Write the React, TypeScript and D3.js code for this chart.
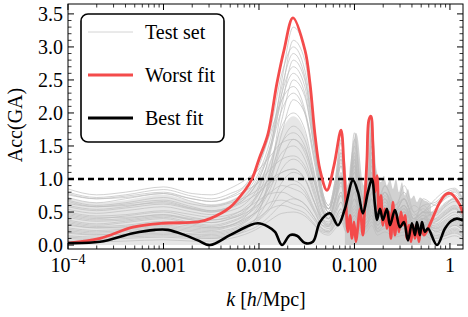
import React from "react";
import * as d3 from "d3";

const W = 468;
const H = 317;
const plot = { left: 68, right: 463, top: 4, bottom: 249 };
const FONT = "'Liberation Serif', 'Times New Roman', serif";

// shared log10(k) grid for the test-set curves
const testLogK = [
  -4.0, -3.7, -3.4, -3.0, -2.7, -2.5, -2.3, -2.15, -2.0, -1.88, -1.76, -1.64, -1.52, -1.42, -1.34, -1.27,
  -1.2, -1.14, -1.08, -1.0, -0.93, -0.87, -0.82, -0.76, -0.68, -0.58, -0.48, -0.38, -0.28, -0.15, -0.05,
  0.05, 0.136,
];

// test set curves (Acc values on testLogK)
const testSet = [
  [0.85,0.76,0.80,0.88,0.78,0.76,0.86,0.98,1.15,1.35,1.55,1.60,1.40,0.95,0.60,0.55,0.80,1.05,0.60,0.90,0.50,0.60,0.90,0.60,0.80,0.50,0.70,0.40,0.50,0.70,0.82,0.86,0.70],
  [0.80,0.72,0.76,0.84,0.74,0.70,0.78,0.90,1.25,1.70,2.20,2.40,2.05,1.30,0.70,0.50,0.75,1.20,0.70,1.10,0.60,0.70,1.20,0.70,0.90,0.60,0.80,0.50,0.60,0.65,0.78,0.84,0.68],
  [0.76,0.70,0.74,0.80,0.70,0.66,0.72,0.82,0.95,1.15,1.30,1.35,1.20,0.80,0.45,0.40,0.70,0.95,0.50,1.30,0.70,0.80,1.00,0.50,0.70,0.40,0.60,0.30,0.70,0.60,0.72,0.80,0.62],
  [0.72,0.64,0.70,0.78,0.66,0.60,0.66,0.80,1.10,1.60,2.40,2.90,2.55,1.60,0.80,0.55,0.95,1.45,0.80,1.00,0.50,0.80,1.50,0.80,0.70,0.50,0.90,0.50,0.40,0.55,0.70,0.76,0.60],
  [0.68,0.60,0.64,0.72,0.62,0.58,0.64,0.72,0.85,1.00,1.10,1.15,1.00,0.65,0.40,0.35,0.60,0.80,0.40,0.80,0.40,0.50,0.70,0.40,0.60,0.30,0.50,0.20,0.40,0.50,0.64,0.70,0.56],
  [0.63,0.58,0.62,0.68,0.58,0.52,0.58,0.70,1.00,1.45,2.05,2.30,2.00,1.25,0.65,0.45,0.70,1.10,0.55,1.50,0.80,0.60,1.30,0.60,0.90,0.60,0.40,0.60,0.50,0.45,0.58,0.66,0.52],
  [0.58,0.52,0.56,0.62,0.54,0.50,0.56,0.66,0.80,0.95,1.00,0.98,0.85,0.55,0.35,0.30,0.55,0.75,0.40,0.70,0.35,0.40,0.60,0.30,0.50,0.40,0.30,0.40,0.30,0.40,0.52,0.60,0.48],
  [0.54,0.48,0.52,0.58,0.50,0.46,0.52,0.62,0.90,1.40,2.30,3.10,2.80,1.75,0.85,0.60,1.00,1.55,0.80,1.20,0.60,0.70,1.60,0.70,0.80,0.60,0.70,0.40,0.60,0.40,0.50,0.58,0.45],
  [0.50,0.44,0.46,0.52,0.46,0.42,0.46,0.54,0.68,0.80,0.90,0.85,0.75,0.50,0.30,0.28,0.50,0.65,0.35,0.60,0.30,0.35,0.50,0.30,0.40,0.30,0.35,0.25,0.30,0.35,0.46,0.54,0.42],
  [0.46,0.40,0.44,0.50,0.42,0.38,0.42,0.52,0.78,1.25,1.80,2.00,1.75,1.10,0.60,0.45,0.70,1.00,0.50,1.70,0.80,0.60,1.10,0.50,0.60,0.50,0.60,0.35,0.45,0.32,0.42,0.50,0.38],
  [0.42,0.36,0.38,0.44,0.38,0.34,0.40,0.48,0.62,0.78,0.80,0.72,0.62,0.42,0.25,0.22,0.40,0.55,0.30,0.55,0.30,0.35,0.45,0.25,0.35,0.25,0.30,0.20,0.30,0.30,0.38,0.46,0.35],
  [0.38,0.32,0.36,0.42,0.34,0.30,0.36,0.46,0.70,1.10,1.55,1.70,1.50,0.95,0.55,0.40,0.65,0.90,0.45,0.95,0.50,0.55,1.00,0.45,0.55,0.45,0.55,0.30,0.40,0.28,0.36,0.42,0.32],
  [0.34,0.28,0.30,0.36,0.30,0.26,0.30,0.38,0.55,0.85,1.30,1.60,1.45,1.00,0.55,0.40,0.75,1.25,0.65,1.40,0.70,0.50,1.75,0.60,0.70,0.40,0.50,0.40,0.35,0.25,0.32,0.38,0.30],
  [0.30,0.26,0.28,0.34,0.28,0.26,0.30,0.40,0.52,0.65,0.68,0.62,0.55,0.38,0.22,0.20,0.35,0.50,0.25,0.45,0.25,0.30,0.40,0.20,0.30,0.20,0.25,0.15,0.25,0.22,0.28,0.34,0.26],
  [0.26,0.22,0.24,0.28,0.24,0.22,0.28,0.36,0.60,1.00,1.70,2.20,2.00,1.35,0.70,0.50,0.85,1.30,0.70,1.10,0.55,0.65,1.40,0.55,0.75,0.45,0.60,0.35,0.45,0.20,0.25,0.30,0.22],
  [0.22,0.18,0.20,0.24,0.20,0.18,0.22,0.30,0.42,0.55,0.60,0.55,0.48,0.32,0.20,0.18,0.30,0.40,0.20,0.40,0.20,0.25,0.35,0.20,0.25,0.15,0.20,0.12,0.20,0.18,0.22,0.30,0.22],
  [0.18,0.15,0.17,0.20,0.17,0.16,0.20,0.28,0.45,0.75,1.15,1.30,1.15,0.75,0.40,0.30,0.50,0.75,0.40,0.80,0.40,0.45,0.80,0.35,0.45,0.30,0.40,0.25,0.30,0.15,0.20,0.26,0.18],
  [0.14,0.12,0.14,0.16,0.14,0.12,0.16,0.24,0.38,0.55,0.82,0.92,0.80,0.52,0.30,0.25,0.40,0.55,0.30,0.50,0.25,0.30,0.55,0.25,0.35,0.20,0.30,0.15,0.25,0.12,0.16,0.22,0.15],
  [0.10,0.08,0.10,0.12,0.10,0.10,0.14,0.22,0.50,1.10,2.10,2.80,2.50,1.55,0.75,0.55,0.90,1.40,0.75,1.25,0.60,0.75,1.50,0.65,0.80,0.50,0.60,0.40,0.50,0.10,0.14,0.18,0.12],
  [0.06,0.05,0.06,0.08,0.06,0.06,0.10,0.16,0.26,0.38,0.48,0.50,0.44,0.30,0.18,0.15,0.25,0.35,0.18,0.30,0.15,0.20,0.30,0.15,0.20,0.12,0.15,0.10,0.15,0.06,0.10,0.14,0.08],
  [0.66,0.58,0.60,0.64,0.55,0.50,0.58,0.74,1.05,1.50,2.20,2.60,2.30,1.45,0.75,0.55,0.90,1.35,0.70,1.35,0.65,0.70,1.25,0.60,0.70,0.50,0.70,0.40,0.50,0.48,0.60,0.72,0.55],
  [0.48,0.42,0.42,0.46,0.40,0.38,0.44,0.56,0.78,1.05,1.40,1.50,1.30,0.85,0.50,0.40,0.65,0.95,0.50,1.60,0.80,0.60,1.20,0.50,0.65,0.40,0.55,0.30,0.40,0.36,0.46,0.56,0.40],
  [0.32,0.26,0.26,0.30,0.26,0.24,0.30,0.42,0.70,1.15,1.90,2.50,2.25,1.45,0.75,0.50,0.85,1.20,0.65,1.00,0.50,0.60,1.30,0.55,0.65,0.40,0.50,0.35,0.40,0.24,0.30,0.36,0.28],
  [0.20,0.16,0.16,0.18,0.16,0.14,0.18,0.26,0.40,0.60,0.95,1.10,1.00,0.65,0.35,0.28,0.45,0.65,0.35,0.70,0.35,0.40,0.70,0.30,0.40,0.25,0.35,0.20,0.30,0.14,0.18,0.24,0.16],
  [0.44,0.38,0.40,0.46,0.38,0.34,0.40,0.50,0.85,1.45,2.50,3.30,2.95,1.80,0.85,0.60,1.00,1.60,0.80,1.30,0.60,0.70,1.70,0.70,0.80,0.60,0.70,0.45,0.55,0.38,0.48,0.56,0.42],
  [0.60,0.54,0.58,0.66,0.56,0.52,0.58,0.70,1.00,1.50,2.30,2.70,2.40,1.50,0.75,0.55,0.90,1.40,0.70,1.20,0.60,0.70,1.40,0.60,0.80,0.50,0.70,0.40,0.50,0.50,0.62,0.70,0.54],
  [0.24,0.20,0.22,0.26,0.22,0.20,0.24,0.34,0.55,0.95,1.55,1.80,1.60,1.05,0.55,0.40,0.70,1.05,0.55,1.15,0.55,0.55,1.10,0.50,0.55,0.40,0.50,0.30,0.40,0.20,0.26,0.32,0.24],
  [0.12,0.10,0.12,0.14,0.12,0.10,0.14,0.20,0.30,0.45,0.62,0.70,0.62,0.42,0.25,0.20,0.32,0.45,0.25,0.45,0.22,0.28,0.45,0.22,0.30,0.18,0.25,0.15,0.20,0.10,0.14,0.20,0.12],
  [0.78,0.70,0.72,0.78,0.70,0.66,0.74,0.88,1.20,1.75,2.60,3.00,2.65,1.65,0.80,0.55,0.85,1.30,0.70,1.20,0.60,0.70,1.30,0.60,0.80,0.50,0.70,0.40,0.50,0.62,0.74,0.82,0.66],
  [0.36,0.30,0.34,0.40,0.32,0.28,0.34,0.44,0.62,0.90,1.10,1.15,1.00,0.65,0.40,0.32,0.55,0.80,0.40,0.85,0.40,0.45,0.80,0.35,0.45,0.30,0.40,0.25,0.35,0.26,0.34,0.40,0.30],
];

// densest part of the test-set bundle (upper edge on testLogK)
const bandTop = [
  0.72, 0.64, 0.68, 0.76, 0.66, 0.62, 0.68, 0.8, 1.0, 1.3, 1.75, 1.95, 1.72, 1.1, 0.6, 0.45, 0.75, 1.1, 0.55,
  1.05, 0.6, 0.6, 1.05, 0.6, 0.7, 0.5, 0.6, 0.4, 0.5, 0.5, 0.62, 0.7, 0.55,
];

// dense high-k part of the test set (upper edge)
const denseLogK = [
  -1.1, -1.068, -1.047, -1.016, -0.984, -0.963, -0.942, -0.921, -0.901, -0.88, -0.859, -0.838, -0.817, -0.796,
  -0.775, -0.754, -0.723, -0.691, -0.66, -0.628, -0.597, -0.565, -0.534, -0.503, -0.471, -0.44, -0.408, -0.377,
  -0.346, -0.314, -0.272, -0.23, -0.199,
];
const denseTop = [
  1.3, 0.9, 1.2, 1.5, 1.7, 1.6, 1.3, 1.0, 0.9, 1.2, 1.7, 1.9, 1.95, 1.6, 1.2, 1.05, 0.95, 1.05, 0.9, 1.0, 0.85,
  1.0, 0.8, 0.95, 0.75, 0.85, 0.7, 0.75, 0.65, 0.72, 0.68, 0.65, 0.6,
];

// worst fit
const worstLogK = [
  -4.0, -3.665, -3.319, -3.005, -2.639, -2.513, -2.304, -2.147, -2.073, -2.0, -1.906, -1.812, -1.738, -1.644,
  -1.518, -1.466, -1.414, -1.361, -1.288, -1.215, -1.141, -1.11, -1.089, -1.068, -1.047, -1.026, -1.005, -0.984,
  -0.963, -0.942, -0.911, -0.89, -0.869, -0.848, -0.827, -0.806, -0.785, -0.764, -0.743, -0.723, -0.702, -0.681,
  -0.66, -0.639, -0.618, -0.597, -0.576, -0.555, -0.534, -0.513, -0.492, -0.471, -0.45, -0.429, -0.408, -0.387,
  -0.366, -0.346, -0.325, -0.304, -0.272, -0.23, -0.178, -0.105, -0.042, 0.01, 0.063, 0.105, 0.136,
];
const worstAcc = [
  0.03, 0.1, 0.27, 0.33, 0.35, 0.4, 0.57, 0.83, 1.0, 1.3, 1.68, 2.45, 2.95, 3.44, 2.95, 2.45, 1.68, 1.14, 0.83,
  1.2, 1.74, 1.2, 0.6, 0.2, 0.45, 0.1, 0.35, 0.05, 0.3, 0.55, 0.15, 0.7, 1.3, 1.9, 1.95, 1.5, 0.8, 1.05, 0.5,
  0.75, 0.3, 0.55, 0.25, 0.5, 0.1, 0.65, 0.15, 0.45, 0.2, 0.5, 0.3, 0.45, 0.1, 0.3, 0.05, 0.3, 0.1, 0.3, 0.05,
  0.25, 0.15, 0.25, 0.42, 0.65, 0.77, 0.78, 0.7, 0.6, 0.48,
];

// best fit
const bestLogK = [
  -4.0, -3.665, -3.319, -3.089, -2.953, -2.775, -2.639, -2.513, -2.304, -2.094, -2.01, -1.906, -1.832, -1.759,
  -1.675, -1.602, -1.518, -1.435, -1.361, -1.257, -1.173, -1.1, -1.016, -0.963, -0.911, -0.859, -0.817, -0.785,
  -0.764, -0.733, -0.702, -0.66, -0.628, -0.576, -0.524, -0.482, -0.44, -0.398, -0.366, -0.346, -0.314, -0.293,
  -0.262, -0.23, -0.136, -0.052, 0.01, 0.073, 0.136,
];
const bestAcc = [
  0.03, 0.05, 0.18, 0.23, 0.23, 0.15, 0.07, 0.0, 0.15, 0.3, 0.33, 0.28, 0.2, 0.0, 0.15, 0.14, 0.03, 0.05, 0.35,
  0.48, 0.3, 0.55, 0.98, 0.8, 0.48, 0.8, 1.0, 0.6, 0.38, 0.55, 0.38, 0.55, 0.3, 0.53, 0.27, 0.35, 0.07, 0.33,
  0.15, 0.35, 0.15, 0.35, 0.2, 0.25, 0.0, 0.25, 0.36, 0.4, 0.37,
];

const threshold = 1.0;
const yTicks = [0, 0.5, 1, 1.5, 2, 2.5, 3, 3.5];
const yTickLabels = ["0.0", "0.5", "1.0", "1.5", "2.0", "2.5", "3.0", "3.5"];
const xTicks = [1e-4, 1e-3, 1e-2, 1e-1, 1];
const xTickLabels = ["10", "0.001", "0.010", "0.100", "1"];
const legendItems = [
  { label: "Test set", color: "#d4d4d4", width: 1 },
  { label: "Worst fit", color: "#f44b4b", width: 3 },
  { label: "Best fit", color: "#000000", width: 3 },
];

export default function App() {
  const x = d3.scaleLog().domain([1e-4, 1.37]).range([plot.left, plot.right]);
  const y = d3.scaleLinear().domain([-0.06, 3.65]).range([plot.bottom, plot.top]);

  const mkLine = (lk: number[], curve: d3.CurveFactory) =>
    d3
      .line<number>()
      .x((_, i) => x(Math.pow(10, lk[i])))
      .y((d) => y(d))
      .curve(curve);

  const mkArea = (lk: number[]) =>
    d3
      .area<number>()
      .x((_, i) => x(Math.pow(10, lk[i])))
      .y0(y(0))
      .y1((d) => y(d))
      .curve(d3.curveMonotoneX);

  const grayLine = mkLine(testLogK, d3.curveMonotoneX);
  const worstLine = mkLine(worstLogK, d3.curveCatmullRom.alpha(0.5));
  const bestLine = mkLine(bestLogK, d3.curveCatmullRom.alpha(0.5));
  const bandArea = mkArea(testLogK);
  const denseArea = mkArea(denseLogK);

  const minorX: number[] = [];
  for (let e = -4; e <= 0; e++) {
    for (let m = 2; m <= 9; m++) {
      const v = m * Math.pow(10, e);
      if (v <= 1.37) minorX.push(v);
    }
  }
  const minorY = d3.range(0, 36).map((d) => d / 10).filter((v) => Math.round(v * 10) % 5 !== 0);

  return (
    <svg
      width={W}
      height={H}
      style={{ position: "absolute", left: 0, top: 0, background: "#fff" }}
      fontFamily={FONT}
    >
      <defs>
        <clipPath id="plotClip">
          <rect x={plot.left} y={plot.top} width={plot.right - plot.left} height={plot.bottom - plot.top} />
        </clipPath>
      </defs>
      <g clipPath="url(#plotClip)">
        <path d={bandArea(bandTop) || ""} fill="#d2d2d2" opacity={0.55} />
        <path d={denseArea(denseTop) || ""} fill="#c6c6c6" opacity={0.8} />
        {testSet.map((s, i) => (
          <path key={i} d={grayLine(s) || ""} fill="none" stroke="#bcbcbc" strokeWidth={0.8} opacity={0.85} />
        ))}
        <line
          x1={plot.left}
          x2={plot.right}
          y1={y(threshold)}
          y2={y(threshold)}
          stroke="#000"
          strokeWidth={2.4}
          strokeDasharray="6,4"
        />
        <path d={worstLine(worstAcc) || ""} fill="none" stroke="#f44b4b" strokeWidth={2.8} strokeLinejoin="round" />
        <path d={bestLine(bestAcc) || ""} fill="none" stroke="#000" strokeWidth={2.6} strokeLinejoin="round" />
      </g>

      {/* frame */}
      <rect
        x={plot.left}
        y={plot.top}
        width={plot.right - plot.left}
        height={plot.bottom - plot.top}
        fill="none"
        stroke="#000"
        strokeWidth={1}
      />

      {/* y ticks */}
      {yTicks.map((t) => (
        <g key={"y" + t}>
          <line x1={plot.left} x2={plot.left + 6} y1={y(t)} y2={y(t)} stroke="#000" />
          <line x1={plot.right} x2={plot.right - 6} y1={y(t)} y2={y(t)} stroke="#000" />
        </g>
      ))}
      {minorY.map((t) => (
        <g key={"my" + t}>
          <line x1={plot.left} x2={plot.left + 3.5} y1={y(t)} y2={y(t)} stroke="#000" strokeWidth={0.8} />
          <line x1={plot.right} x2={plot.right - 3.5} y1={y(t)} y2={y(t)} stroke="#000" strokeWidth={0.8} />
        </g>
      ))}
      {yTicks.map((t, i) => (
        <text key={"yl" + t} x={plot.left - 5} y={y(t)} dy="0.35em" textAnchor="end" fontSize={20}>
          {yTickLabels[i]}
        </text>
      ))}

      {/* x ticks */}
      {xTicks.map((t) => (
        <g key={"x" + t}>
          <line x1={x(t)} x2={x(t)} y1={plot.bottom} y2={plot.bottom - 6} stroke="#000" />
          <line x1={x(t)} x2={x(t)} y1={plot.top} y2={plot.top + 6} stroke="#000" />
        </g>
      ))}
      {minorX.map((t) => (
        <g key={"mx" + t}>
          <line x1={x(t)} x2={x(t)} y1={plot.bottom} y2={plot.bottom - 3.5} stroke="#000" strokeWidth={0.8} />
          <line x1={x(t)} x2={x(t)} y1={plot.top} y2={plot.top + 3.5} stroke="#000" strokeWidth={0.8} />
        </g>
      ))}
      {xTicks.map((t, i) => (
        <text key={"xl" + t} x={x(t)} y={272} textAnchor="middle" fontSize={20}>
          {xTickLabels[i]}
          {i === 0 && (
            <tspan dy={-8} fontSize={14}>
              −4
            </tspan>
          )}
        </text>
      ))}

      {/* axis titles */}
      <text x={266} y={306} textAnchor="middle" fontSize={20}>
        <tspan fontStyle="italic">k</tspan>
        {" ["}
        <tspan fontStyle="italic">h</tspan>
        {"/Mpc]"}
      </text>
      <text transform="translate(22,125) rotate(-90)" textAnchor="middle" fontSize={20}>
        Acc(GA)
      </text>

      {/* legend */}
      <rect x={81} y={14} width={143} height={128} rx={7} fill="#fff" stroke="#000" strokeWidth={1.6} />
      {legendItems.map((it, i) => (
        <g key={it.label}>
          <line x1={88} x2={133} y1={32 + i * 43} y2={32 + i * 43} stroke={it.color} strokeWidth={it.width} />
          <text x={145} y={32 + i * 43} dy="0.33em" fontSize={20}>
            {it.label}
          </text>
        </g>
      ))}
    </svg>
  );
}
